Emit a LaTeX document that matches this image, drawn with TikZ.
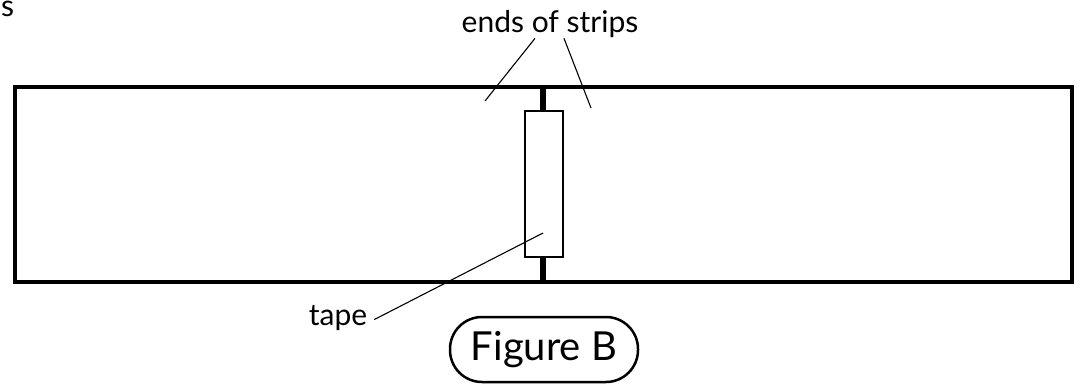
\documentclass[tikz,border=0pt]{standalone}
\usepackage{fontspec}
\setmainfont{Lato}
\usetikzlibrary{positioning}

\begin{document}
\begin{tikzpicture}[x=1pt, y=-1pt,
  strip/.style={line width=3.5pt},
  joint/.style={line width=6pt},
  tapebox/.style={draw, fill=white, line width=1.6pt, inner sep=0pt},
  leader/.style={line width=1.1pt},
  lbl/.style={inner sep=1pt, font=\fontsize{30}{34}\selectfont}]
\useasboundingbox (0,0) rectangle (1082,384);
\node[lbl, anchor=base west, inner sep=0pt] (cut) at (1,16) {s};
\draw[strip] (15,87) rectangle (1072,282);
\draw[joint] (543,87) -- (543,282);
\node[tapebox, minimum width=38pt, minimum height=146pt] (tape) at (544,184) {};
\node[lbl, anchor=base] (ends) at (550,32) {ends of strips};
\coordinate (leftend) at (485,101);
\coordinate (rightend) at (591,108);
\draw[leader] ([xshift=-15pt]ends.south) -- (leftend);
\draw[leader] ([xshift=14pt]ends.south) -- (rightend);
\node[lbl, anchor=base] (tapelbl) at (338,325) {tape};
\coordinate (tapemid) at (543,233);
\draw[leader] ([xshift=6pt,yshift=-2pt]tapelbl.east) -- (tapemid);
\node[draw, rounded corners=32pt, line width=2.5pt, minimum width=188pt, minimum height=65pt,
  font=\fontsize{40}{44}\selectfont] (fig) at (544,349.5) {Figure B};
\end{tikzpicture}
\end{document}
